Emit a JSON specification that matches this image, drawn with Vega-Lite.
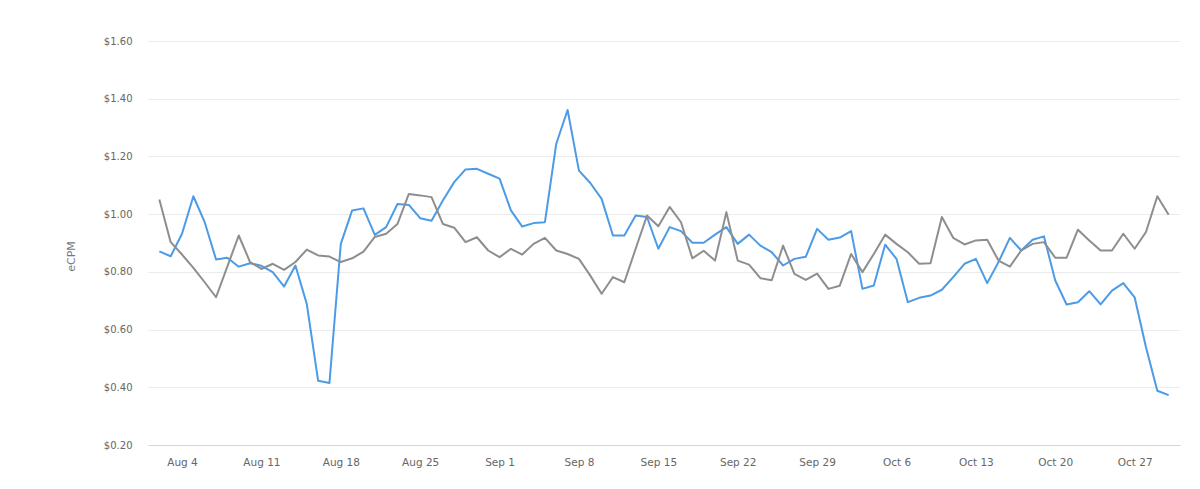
{
  "$schema": "https://vega.github.io/schema/vega-lite/v6.json",
  "description": "Daily eCPM, current period vs previous period, Aug 2 to Oct 30.",
  "autosize": "none",
  "width": 1032,
  "height": 404,
  "padding": {"left": 148, "top": 41, "right": 20, "bottom": 44},
  "background": "white",
  "data": {
    "values": [
      {"date": "2013-08-02", "series": "Current", "ecpm": 0.871},
      {"date": "2013-08-03", "series": "Current", "ecpm": 0.854},
      {"date": "2013-08-04", "series": "Current", "ecpm": 0.932},
      {"date": "2013-08-05", "series": "Current", "ecpm": 1.062},
      {"date": "2013-08-06", "series": "Current", "ecpm": 0.972},
      {"date": "2013-08-07", "series": "Current", "ecpm": 0.843},
      {"date": "2013-08-08", "series": "Current", "ecpm": 0.849},
      {"date": "2013-08-09", "series": "Current", "ecpm": 0.818},
      {"date": "2013-08-10", "series": "Current", "ecpm": 0.830},
      {"date": "2013-08-11", "series": "Current", "ecpm": 0.821},
      {"date": "2013-08-12", "series": "Current", "ecpm": 0.799},
      {"date": "2013-08-13", "series": "Current", "ecpm": 0.749},
      {"date": "2013-08-14", "series": "Current", "ecpm": 0.822},
      {"date": "2013-08-15", "series": "Current", "ecpm": 0.689},
      {"date": "2013-08-16", "series": "Current", "ecpm": 0.423},
      {"date": "2013-08-17", "series": "Current", "ecpm": 0.415},
      {"date": "2013-08-18", "series": "Current", "ecpm": 0.897},
      {"date": "2013-08-19", "series": "Current", "ecpm": 1.013},
      {"date": "2013-08-20", "series": "Current", "ecpm": 1.020},
      {"date": "2013-08-21", "series": "Current", "ecpm": 0.928},
      {"date": "2013-08-22", "series": "Current", "ecpm": 0.955},
      {"date": "2013-08-23", "series": "Current", "ecpm": 1.035},
      {"date": "2013-08-24", "series": "Current", "ecpm": 1.032},
      {"date": "2013-08-25", "series": "Current", "ecpm": 0.986},
      {"date": "2013-08-26", "series": "Current", "ecpm": 0.977},
      {"date": "2013-08-27", "series": "Current", "ecpm": 1.047},
      {"date": "2013-08-28", "series": "Current", "ecpm": 1.111},
      {"date": "2013-08-29", "series": "Current", "ecpm": 1.155},
      {"date": "2013-08-30", "series": "Current", "ecpm": 1.157},
      {"date": "2013-08-31", "series": "Current", "ecpm": 1.140},
      {"date": "2013-09-01", "series": "Current", "ecpm": 1.123},
      {"date": "2013-09-02", "series": "Current", "ecpm": 1.013},
      {"date": "2013-09-03", "series": "Current", "ecpm": 0.957},
      {"date": "2013-09-04", "series": "Current", "ecpm": 0.969},
      {"date": "2013-09-05", "series": "Current", "ecpm": 0.972},
      {"date": "2013-09-06", "series": "Current", "ecpm": 1.244},
      {"date": "2013-09-07", "series": "Current", "ecpm": 1.361},
      {"date": "2013-09-08", "series": "Current", "ecpm": 1.151},
      {"date": "2013-09-09", "series": "Current", "ecpm": 1.108},
      {"date": "2013-09-10", "series": "Current", "ecpm": 1.053},
      {"date": "2013-09-11", "series": "Current", "ecpm": 0.926},
      {"date": "2013-09-12", "series": "Current", "ecpm": 0.926},
      {"date": "2013-09-13", "series": "Current", "ecpm": 0.995},
      {"date": "2013-09-14", "series": "Current", "ecpm": 0.990},
      {"date": "2013-09-15", "series": "Current", "ecpm": 0.880},
      {"date": "2013-09-16", "series": "Current", "ecpm": 0.955},
      {"date": "2013-09-17", "series": "Current", "ecpm": 0.941},
      {"date": "2013-09-18", "series": "Current", "ecpm": 0.901},
      {"date": "2013-09-19", "series": "Current", "ecpm": 0.901},
      {"date": "2013-09-20", "series": "Current", "ecpm": 0.929},
      {"date": "2013-09-21", "series": "Current", "ecpm": 0.955},
      {"date": "2013-09-22", "series": "Current", "ecpm": 0.897},
      {"date": "2013-09-23", "series": "Current", "ecpm": 0.929},
      {"date": "2013-09-24", "series": "Current", "ecpm": 0.891},
      {"date": "2013-09-25", "series": "Current", "ecpm": 0.868},
      {"date": "2013-09-26", "series": "Current", "ecpm": 0.822},
      {"date": "2013-09-27", "series": "Current", "ecpm": 0.845},
      {"date": "2013-09-28", "series": "Current", "ecpm": 0.852},
      {"date": "2013-09-29", "series": "Current", "ecpm": 0.949},
      {"date": "2013-09-30", "series": "Current", "ecpm": 0.911},
      {"date": "2013-10-01", "series": "Current", "ecpm": 0.919},
      {"date": "2013-10-02", "series": "Current", "ecpm": 0.941},
      {"date": "2013-10-03", "series": "Current", "ecpm": 0.741},
      {"date": "2013-10-04", "series": "Current", "ecpm": 0.753},
      {"date": "2013-10-05", "series": "Current", "ecpm": 0.894},
      {"date": "2013-10-06", "series": "Current", "ecpm": 0.845},
      {"date": "2013-10-07", "series": "Current", "ecpm": 0.695},
      {"date": "2013-10-08", "series": "Current", "ecpm": 0.710},
      {"date": "2013-10-09", "series": "Current", "ecpm": 0.718},
      {"date": "2013-10-10", "series": "Current", "ecpm": 0.738},
      {"date": "2013-10-11", "series": "Current", "ecpm": 0.782},
      {"date": "2013-10-12", "series": "Current", "ecpm": 0.828},
      {"date": "2013-10-13", "series": "Current", "ecpm": 0.845},
      {"date": "2013-10-14", "series": "Current", "ecpm": 0.761},
      {"date": "2013-10-15", "series": "Current", "ecpm": 0.834},
      {"date": "2013-10-16", "series": "Current", "ecpm": 0.918},
      {"date": "2013-10-17", "series": "Current", "ecpm": 0.874},
      {"date": "2013-10-18", "series": "Current", "ecpm": 0.911},
      {"date": "2013-10-19", "series": "Current", "ecpm": 0.923},
      {"date": "2013-10-20", "series": "Current", "ecpm": 0.770},
      {"date": "2013-10-21", "series": "Current", "ecpm": 0.687},
      {"date": "2013-10-22", "series": "Current", "ecpm": 0.695},
      {"date": "2013-10-23", "series": "Current", "ecpm": 0.733},
      {"date": "2013-10-24", "series": "Current", "ecpm": 0.687},
      {"date": "2013-10-25", "series": "Current", "ecpm": 0.735},
      {"date": "2013-10-26", "series": "Current", "ecpm": 0.761},
      {"date": "2013-10-27", "series": "Current", "ecpm": 0.712},
      {"date": "2013-10-28", "series": "Current", "ecpm": 0.539},
      {"date": "2013-10-29", "series": "Current", "ecpm": 0.388},
      {"date": "2013-10-30", "series": "Current", "ecpm": 0.373},
      {"date": "2013-08-02", "series": "Previous", "ecpm": 1.051},
      {"date": "2013-08-03", "series": "Previous", "ecpm": 0.903},
      {"date": "2013-08-04", "series": "Previous", "ecpm": 0.860},
      {"date": "2013-08-05", "series": "Previous", "ecpm": 0.814},
      {"date": "2013-08-06", "series": "Previous", "ecpm": 0.764},
      {"date": "2013-08-07", "series": "Previous", "ecpm": 0.712},
      {"date": "2013-08-08", "series": "Previous", "ecpm": 0.819},
      {"date": "2013-08-09", "series": "Previous", "ecpm": 0.926},
      {"date": "2013-08-10", "series": "Previous", "ecpm": 0.834},
      {"date": "2013-08-11", "series": "Previous", "ecpm": 0.810},
      {"date": "2013-08-12", "series": "Previous", "ecpm": 0.828},
      {"date": "2013-08-13", "series": "Previous", "ecpm": 0.807},
      {"date": "2013-08-14", "series": "Previous", "ecpm": 0.834},
      {"date": "2013-08-15", "series": "Previous", "ecpm": 0.877},
      {"date": "2013-08-16", "series": "Previous", "ecpm": 0.857},
      {"date": "2013-08-17", "series": "Previous", "ecpm": 0.853},
      {"date": "2013-08-18", "series": "Previous", "ecpm": 0.834},
      {"date": "2013-08-19", "series": "Previous", "ecpm": 0.847},
      {"date": "2013-08-20", "series": "Previous", "ecpm": 0.870},
      {"date": "2013-08-21", "series": "Previous", "ecpm": 0.921},
      {"date": "2013-08-22", "series": "Previous", "ecpm": 0.932},
      {"date": "2013-08-23", "series": "Previous", "ecpm": 0.966},
      {"date": "2013-08-24", "series": "Previous", "ecpm": 1.070},
      {"date": "2013-08-25", "series": "Previous", "ecpm": 1.065},
      {"date": "2013-08-26", "series": "Previous", "ecpm": 1.059},
      {"date": "2013-08-27", "series": "Previous", "ecpm": 0.966},
      {"date": "2013-08-28", "series": "Previous", "ecpm": 0.953},
      {"date": "2013-08-29", "series": "Previous", "ecpm": 0.903},
      {"date": "2013-08-30", "series": "Previous", "ecpm": 0.920},
      {"date": "2013-08-31", "series": "Previous", "ecpm": 0.874},
      {"date": "2013-09-01", "series": "Previous", "ecpm": 0.851},
      {"date": "2013-09-02", "series": "Previous", "ecpm": 0.880},
      {"date": "2013-09-03", "series": "Previous", "ecpm": 0.860},
      {"date": "2013-09-04", "series": "Previous", "ecpm": 0.897},
      {"date": "2013-09-05", "series": "Previous", "ecpm": 0.918},
      {"date": "2013-09-06", "series": "Previous", "ecpm": 0.874},
      {"date": "2013-09-07", "series": "Previous", "ecpm": 0.862},
      {"date": "2013-09-08", "series": "Previous", "ecpm": 0.845},
      {"date": "2013-09-09", "series": "Previous", "ecpm": 0.787},
      {"date": "2013-09-10", "series": "Previous", "ecpm": 0.724},
      {"date": "2013-09-11", "series": "Previous", "ecpm": 0.782},
      {"date": "2013-09-12", "series": "Previous", "ecpm": 0.764},
      {"date": "2013-09-13", "series": "Previous", "ecpm": 0.880},
      {"date": "2013-09-14", "series": "Previous", "ecpm": 0.995},
      {"date": "2013-09-15", "series": "Previous", "ecpm": 0.958},
      {"date": "2013-09-16", "series": "Previous", "ecpm": 1.025},
      {"date": "2013-09-17", "series": "Previous", "ecpm": 0.972},
      {"date": "2013-09-18", "series": "Previous", "ecpm": 0.847},
      {"date": "2013-09-19", "series": "Previous", "ecpm": 0.873},
      {"date": "2013-09-20", "series": "Previous", "ecpm": 0.839},
      {"date": "2013-09-21", "series": "Previous", "ecpm": 1.007},
      {"date": "2013-09-22", "series": "Previous", "ecpm": 0.839},
      {"date": "2013-09-23", "series": "Previous", "ecpm": 0.825},
      {"date": "2013-09-24", "series": "Previous", "ecpm": 0.778},
      {"date": "2013-09-25", "series": "Previous", "ecpm": 0.771},
      {"date": "2013-09-26", "series": "Previous", "ecpm": 0.891},
      {"date": "2013-09-27", "series": "Previous", "ecpm": 0.793},
      {"date": "2013-09-28", "series": "Previous", "ecpm": 0.772},
      {"date": "2013-09-29", "series": "Previous", "ecpm": 0.794},
      {"date": "2013-09-30", "series": "Previous", "ecpm": 0.741},
      {"date": "2013-10-01", "series": "Previous", "ecpm": 0.752},
      {"date": "2013-10-02", "series": "Previous", "ecpm": 0.862},
      {"date": "2013-10-03", "series": "Previous", "ecpm": 0.799},
      {"date": "2013-10-04", "series": "Previous", "ecpm": 0.862},
      {"date": "2013-10-05", "series": "Previous", "ecpm": 0.929},
      {"date": "2013-10-06", "series": "Previous", "ecpm": 0.897},
      {"date": "2013-10-07", "series": "Previous", "ecpm": 0.868},
      {"date": "2013-10-08", "series": "Previous", "ecpm": 0.828},
      {"date": "2013-10-09", "series": "Previous", "ecpm": 0.830},
      {"date": "2013-10-10", "series": "Previous", "ecpm": 0.990},
      {"date": "2013-10-11", "series": "Previous", "ecpm": 0.918},
      {"date": "2013-10-12", "series": "Previous", "ecpm": 0.895},
      {"date": "2013-10-13", "series": "Previous", "ecpm": 0.909},
      {"date": "2013-10-14", "series": "Previous", "ecpm": 0.911},
      {"date": "2013-10-15", "series": "Previous", "ecpm": 0.839},
      {"date": "2013-10-16", "series": "Previous", "ecpm": 0.818},
      {"date": "2013-10-17", "series": "Previous", "ecpm": 0.874},
      {"date": "2013-10-18", "series": "Previous", "ecpm": 0.897},
      {"date": "2013-10-19", "series": "Previous", "ecpm": 0.903},
      {"date": "2013-10-20", "series": "Previous", "ecpm": 0.849},
      {"date": "2013-10-21", "series": "Previous", "ecpm": 0.849},
      {"date": "2013-10-22", "series": "Previous", "ecpm": 0.946},
      {"date": "2013-10-23", "series": "Previous", "ecpm": 0.909},
      {"date": "2013-10-24", "series": "Previous", "ecpm": 0.874},
      {"date": "2013-10-25", "series": "Previous", "ecpm": 0.874},
      {"date": "2013-10-26", "series": "Previous", "ecpm": 0.932},
      {"date": "2013-10-27", "series": "Previous", "ecpm": 0.880},
      {"date": "2013-10-28", "series": "Previous", "ecpm": 0.938},
      {"date": "2013-10-29", "series": "Previous", "ecpm": 1.062},
      {"date": "2013-10-30", "series": "Previous", "ecpm": 0.998}
    ]
  },
  "mark": {"type": "line", "strokeWidth": 2, "strokeJoin": "round"},
  "encoding": {
    "x": {
      "field": "date",
      "type": "temporal",
      "scale": {
        "type": "utc",
        "domain": [
          {"year": 2013, "month": 8, "date": 1, "utc": true},
          {"year": 2013, "month": 10, "date": 31, "utc": true}
        ]
      },
      "axis": {
        "title": null,
        "labelExpr": "utcFormat(datum.value, '%b %-d')",
        "values": [
          {"year": 2013, "month": 8, "date": 4, "utc": true},
          {"year": 2013, "month": 8, "date": 11, "utc": true},
          {"year": 2013, "month": 8, "date": 18, "utc": true},
          {"year": 2013, "month": 8, "date": 25, "utc": true},
          {"year": 2013, "month": 9, "date": 1, "utc": true},
          {"year": 2013, "month": 9, "date": 8, "utc": true},
          {"year": 2013, "month": 9, "date": 15, "utc": true},
          {"year": 2013, "month": 9, "date": 22, "utc": true},
          {"year": 2013, "month": 9, "date": 29, "utc": true},
          {"year": 2013, "month": 10, "date": 6, "utc": true},
          {"year": 2013, "month": 10, "date": 13, "utc": true},
          {"year": 2013, "month": 10, "date": 20, "utc": true},
          {"year": 2013, "month": 10, "date": 27, "utc": true}
        ],
        "grid": false,
        "ticks": false,
        "labelPadding": 12,
        "labelFont": "DejaVu Sans",
        "labelFontSize": 10.5,
        "labelColor": "#666666",
        "domainColor": "#ccd6eb",
        "domainWidth": 1
      }
    },
    "y": {
      "field": "ecpm",
      "type": "quantitative",
      "scale": {"domain": [0.2, 1.6], "nice": false, "zero": false},
      "axis": {
        "title": "eCPM",
        "values": [0.2, 0.4, 0.6, 0.8, 1.0, 1.2, 1.4, 1.6],
        "format": "$.2f",
        "domain": false,
        "ticks": false,
        "labelPadding": 16,
        "labelFont": "DejaVu Sans",
        "labelFontSize": 10,
        "labelColor": "#666666",
        "gridColor": "#ebebeb",
        "gridWidth": 1,
        "titleFont": "DejaVu Sans",
        "titleFontSize": 11,
        "titleFontWeight": "normal",
        "titleColor": "#777777",
        "titleAngle": 270,
        "titleAlign": "center",
        "titleBaseline": "middle",
        "titleX": -77,
        "titleY": 215
      }
    },
    "color": {
      "field": "series",
      "type": "nominal",
      "scale": {"domain": ["Current", "Previous"], "range": ["#4c9be6", "#8e8e8e"]},
      "legend": null
    }
  },
  "config": {
    "view": {"stroke": null}
  }
}
